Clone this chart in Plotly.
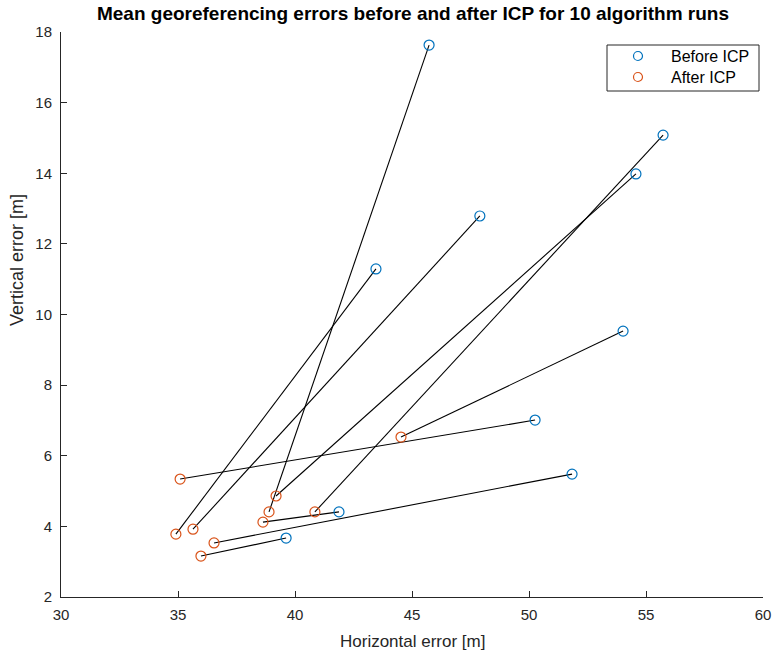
import plotly.graph_objects as go

# Data (pairs: before ICP -> after ICP)
before_x = [45.73, 55.73, 54.57, 47.9, 43.46, 54.02, 50.26, 51.84, 41.88, 39.62]
before_y = [17.63, 15.08, 13.98, 12.79, 11.29, 9.53, 7.01, 5.48, 4.41, 3.67]
after_x = [38.89, 40.85, 39.19, 35.64, 34.91, 44.53, 35.09, 36.54, 38.63, 35.98]
after_y = [4.41, 4.41, 4.86, 3.92, 3.78, 6.53, 5.34, 3.53, 4.12, 3.16]

x_ticks = [30, 35, 40, 45, 50, 55, 60]
y_ticks = [2, 4, 6, 8, 10, 12, 14, 16, 18]

series_names = ["Before ICP", "After ICP"]
series_colors = ["#0072BD", "#D95319"]

line_x, line_y = [], []
for bx, by, ax, ay in zip(before_x, before_y, after_x, after_y):
    line_x += [bx, ax, None]
    line_y += [by, ay, None]

FONT = "Liberation Sans, Arial, Helvetica, sans-serif"
TXT = "#262626"

fig = go.Figure()
fig.add_trace(go.Scatter(x=line_x, y=line_y, mode="lines",
                         line=dict(color="black", width=1.1),
                         showlegend=False, hoverinfo="skip"))
for name, color, xs, ys in zip(series_names, series_colors,
                               [before_x, after_x], [before_y, after_y]):
    fig.add_trace(go.Scatter(x=xs, y=ys, mode="markers", name=name, showlegend=False,
                             marker=dict(symbol="circle-open", size=10, color=color,
                                         line=dict(width=1.2, color=color))))

W, H = 774, 657
L, R, T, B = 61, 763, 32, 597


def px(x):
    return (x - L) / (R - L)


def py(y):
    return (B - y) / (B - T)


# Legend drawn as a boxed key in paper coordinates
shapes = [dict(type="rect", xref="paper", yref="paper",
               x0=px(607), x1=px(759), y0=py(91), y1=py(45),
               line=dict(color="#262626", width=1), fillcolor="white", layer="above")]
annotations = []
for i, (name, color) in enumerate(zip(series_names, series_colors)):
    cy = 56 + 21 * i
    shapes.append(dict(type="circle", xref="paper", yref="paper",
                       x0=px(638 - 4.5), x1=px(638 + 4.5), y0=py(cy + 4.5), y1=py(cy - 4.5),
                       line=dict(color=color, width=1.2), layer="above"))
    annotations.append(dict(text=name, xref="paper", yref="paper", x=px(669), y=py(cy),
                            xanchor="left", yanchor="middle", showarrow=False,
                            font=dict(size=16, color="black")))

annotations += [
    dict(text="Horizontal error [m]", xref="paper", yref="paper",
         x=0.5, y=py(641), xanchor="center", yanchor="middle",
         showarrow=False, font=dict(size=17, color=TXT)),
    dict(text="Vertical error [m]", xref="paper", yref="paper",
         x=px(17), y=py(260), xanchor="center", yanchor="middle",
         textangle=-90, showarrow=False, font=dict(size=18, color=TXT)),
]

fig.update_layout(
    width=W, height=H,
    margin=dict(l=L, r=W - R, t=T, b=H - B, autoexpand=False),
    paper_bgcolor="white", plot_bgcolor="white",
    font=dict(family=FONT, color=TXT, size=15),
    title=dict(text="<b>Mean georeferencing errors before and after ICP for 10 algorithm runs</b>",
               x=413 / W, xanchor="center", y=1 - 13 / H, yanchor="middle",
               yref="container", xref="container",
               font=dict(family=FONT, size=19, color="black")),
    xaxis=dict(range=[30, 60], tickvals=x_ticks, ticks="inside", ticklen=6,
               showline=True, linecolor="#262626", linewidth=1, mirror=False,
               showgrid=False, zeroline=False, tickcolor="#262626",
               tickfont=dict(size=15), ticklabelstandoff=4, automargin=False),
    yaxis=dict(range=[2, 18], tickvals=y_ticks, ticks="inside", ticklen=6,
               showline=True, linecolor="#262626", linewidth=1, mirror=False,
               showgrid=False, zeroline=False, tickcolor="#262626",
               tickfont=dict(size=15), ticklabelstandoff=5, automargin=False),
    showlegend=False,
    shapes=shapes,
    annotations=annotations,
)

fig.write_html("out.html")
